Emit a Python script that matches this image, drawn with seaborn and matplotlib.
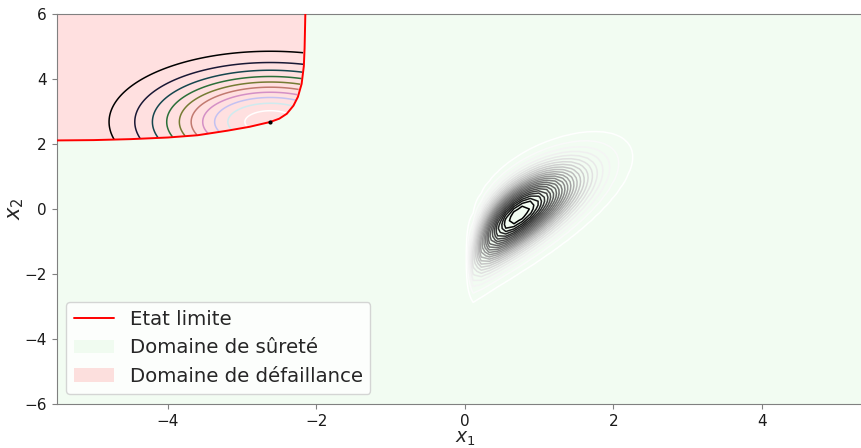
import numpy as np
import matplotlib
matplotlib.use("Agg")
import matplotlib.pyplot as plt
import seaborn as sns
from math import erf

# limit state curve
limit_x1 = [-5.5, -5.0, -4.5, -4.0, -3.6, -3.2, -2.9, -2.62, -2.5, -2.4, -2.31, -2.25, -2.2, -2.17, -2.16, -2.15]
limit_x2 = [2.11, 2.12, 2.15, 2.20, 2.27, 2.41, 2.53, 2.68, 2.78, 2.93, 3.18, 3.45, 3.85, 4.40, 4.95, 6.0]

# design point (importance density = unit normal centred on it)
design_point = [-2.62, 2.68]
is_levels = [0.015, 0.03, 0.045, 0.06, 0.075, 0.09, 0.105, 0.12, 0.135, 0.15]

# joint density of (X1, X2): Rayleigh X1, normal X2, normal copula
x1_scale = 0.72
x2_mean = 0.0
x2_std = 0.97
rho = 0.68
n_levels = 25

x_lim = [-5.5, 5.5]
y_lim = [-6, 6]
x_ticks = [-4, -2, 0, 2, 4]
y_ticks = [-6, -4, -2, 0, 2, 4, 6]

sns.set_style("ticks", {"axes.edgecolor": "0.5", "xtick.color": "0.5", "ytick.color": "0.5"})
plt.rcParams["font.family"] = ["DejaVu Sans"]

# failure domain + importance sampling density restricted to it
X1, X2 = np.meshgrid(np.linspace(x_lim[0], x_lim[1], 551), np.linspace(y_lim[0], y_lim[1], 601))
boundary = np.interp(X1, limit_x1, limit_x2)
failed = X2 > boundary
f_is = np.exp(-0.5 * ((X1 - design_point[0]) ** 2 + (X2 - design_point[1]) ** 2)) / (2 * np.pi)
f_is = np.ma.masked_where(~failed, f_is)

# joint density on a coarser grid
Y1, Y2 = np.meshgrid(np.linspace(x_lim[0], x_lim[1], 101), np.linspace(y_lim[0], y_lim[1], 101))
zg = np.linspace(-8, 8, 4001)
phi_g = 0.5 * (1 + np.vectorize(erf)(zg / np.sqrt(2)))
pos = Y1 > 0
xp = np.where(pos, Y1, 1.0)
u1 = 1 - np.exp(-xp ** 2 / (2 * x1_scale ** 2))
z1 = np.interp(u1, phi_g, zg)
z2 = (Y2 - x2_mean) / x2_std
f1 = xp / x1_scale ** 2 * np.exp(-xp ** 2 / (2 * x1_scale ** 2))
f2 = np.exp(-0.5 * z2 ** 2) / (x2_std * np.sqrt(2 * np.pi))
cop = np.exp(-(rho ** 2 * (z1 ** 2 + z2 ** 2) - 2 * rho * z1 * z2) / (2 * (1 - rho ** 2))) / np.sqrt(1 - rho ** 2)
f_x = np.where(pos, f1 * f2 * cop, 0.0)
x_levels = np.linspace(0, f_x.max(), n_levels + 2)[1:-1]

fig = plt.figure(figsize=(8.62, 4.48), dpi=100)
ax = fig.add_axes([56.6 / 862, 44 / 448, 11 * 74.25 / 862, 390 / 448])

safe_x1 = limit_x1 + [x_lim[1]]
safe_x2 = limit_x2 + [y_lim[1]]
h_safe = ax.fill_between(safe_x1, y_lim[0], safe_x2, color="limegreen", alpha=0.06, lw=0,
                         label="Domaine de sûreté")
h_fail = ax.fill_between(limit_x1, limit_x2, y_lim[1], color="red", alpha=0.12, lw=0,
                         label="Domaine de défaillance")

ax.contour(Y1, Y2, f_x, levels=x_levels, cmap="Greys", linewidths=1.1)
ax.contour(X1, X2, f_is, levels=is_levels, cmap="cubehelix", linewidths=1.1)

h_line, = ax.plot(limit_x1, limit_x2, color="red", lw=1.4, label="Etat limite", zorder=4)
ax.plot(design_point[0], design_point[1], "k.", ms=4, zorder=5)

ax.set_xlim(x_lim)
ax.set_ylim(y_lim)
ax.set_xticks(x_ticks)
ax.set_yticks(y_ticks)
ax.tick_params(labelsize=11, labelcolor="0.1", length=3.5)
ax.set_xlabel("$x_1$", fontsize=13.5, labelpad=0)
ax.set_ylabel("$x_2$", fontsize=15, labelpad=-1)

ax.legend(handles=[h_line, h_safe, h_fail], loc="lower left", fontsize=14.2)

fig.savefig("out.png", dpi=100)
